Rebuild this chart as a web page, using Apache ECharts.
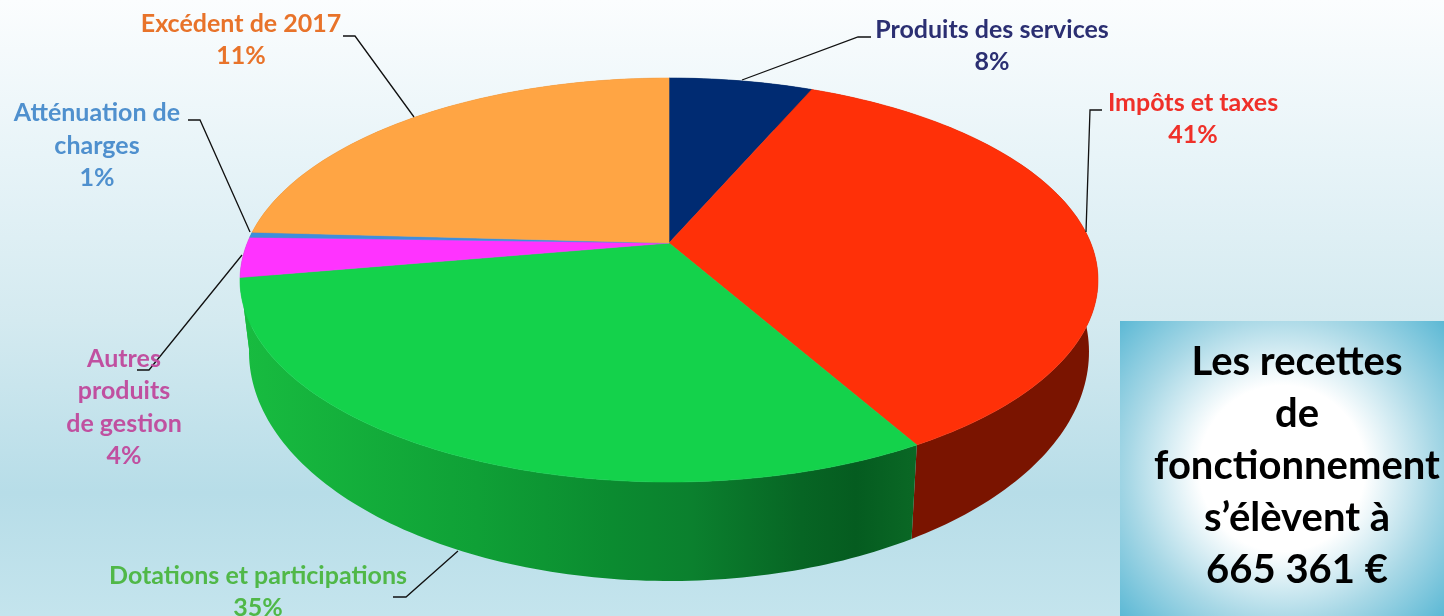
<!DOCTYPE html>
<html lang="fr">
<head>
<meta charset="utf-8">
<title>Recettes de fonctionnement</title>
<script src="https://cdn.jsdelivr.net/npm/echarts@6/dist/echarts.min.js"></script>
<style>
  html, body { margin: 0; padding: 0; overflow: hidden; }
  #chart { width: 1444px; height: 616px; }
</style>
</head>
<body>
<div id="chart"></div>
<script>
// clockwise from 12 o'clock
var names = ['Produits des services', 'Impôts et taxes', 'Dotations et participations', 'Autres produits de gestion', 'Atténuation de charges', 'Excédent de 2017'];
// printed percentages
var percents = [8, 41, 35, 4, 1, 11];
// the slices as they are drawn in the picture (they do not follow the printed numbers)
var sliceShares = [5.4, 34.8, 35.0, 3.2, 0.4, 21.2];
var topColors = ['#002B72', '#FF3008', '#14D24B', '#FF33FF', '#3E8EDB', '#FFA544'];
// the back of the pie is hidden, the two walls next to the green one show as green at the left edge
var wallColors = ['#001A48', '#7A1400', '#0B8B30', '#18BC40', '#18BC40', '#B87020'];
var labelColors = ['#2B2F72', '#EF3029', '#50B848', '#C050A0', '#4F90CE', '#E8732A'];
var labelLines = [['Produits des services'], ['Impôts et taxes'], ['Dotations et participations'], ['Autres', 'produits', 'de gestion'], ['Atténuation de', 'charges'], ['Excédent de 2017']];
var boxLines = ['Les recettes', 'de', 'fonctionnement', 's’élèvent à', '665 361 €'];

// label layout: centre x, y of each line
var labelX = [992, 1193, 258, 124, 97, 241];
var labelY = [[30, 62], [103, 135], [576, 608], [359, 391, 424, 456], [113, 146, 178], [24, 56]];
var leaders = [
  [[742, 80], [858, 37], [871, 37]],
  [[1086, 232], [1090, 110], [1102, 110]],
  [[458, 551], [406, 597], [393, 597]],
  [[242, 255], [149, 370], [137, 370]],
  [[250, 232], [200, 120], [188, 120]],
  [[414, 117], [355, 36], [343, 36]]
];
var boxX = 1297;
var boxY = [362, 414, 466, 518, 570];

// pie geometry in axis units (the top face is the unit circle of the hidden axes)
var apexY = 0.183;
var rimCentreY = -0.356;
var rimRadiusX = 0.979;
var rimRadiusY = 1.134;

var starts = [];
var total = 0;
sliceShares.forEach(function (v) { starts.push(total); total += v; });

function arc(from, to, cx, cy, rx, ry) {
  var pts = [];
  var steps = Math.max(2, Math.ceil(Math.abs(to - from) * 3));
  for (var i = 0; i <= steps; i++) {
    var a = (from + (to - from) * i / steps) / 100 * 2 * Math.PI;
    pts.push([cx + rx * Math.sin(a), cy + ry * Math.cos(a)]);
  }
  return pts;
}

function greenWall() {
  return new echarts.graphic.LinearGradient(0, 0, 1, 0, [
    { offset: 0, color: '#18BC40' },
    { offset: 0.35, color: '#0FA036' },
    { offset: 0.55, color: '#0B8B30' },
    { offset: 0.67, color: '#0B802E' },
    { offset: 0.83, color: '#076524' },
    { offset: 0.91, color: '#055C20' },
    { offset: 1, color: '#0A6825' }
  ]);
}

function renderWall(params, api) {
  var i = api.value(0);
  var from = starts[i], to = from + api.value(1);
  var pts = arc(from, to, 0, 0, 1, 1).concat(arc(to, from, 0, rimCentreY, rimRadiusX, rimRadiusY));
  var fill = i === 2 ? greenWall() : wallColors[i];
  return {
    type: 'polygon',
    shape: { points: pts.map(function (p) { return api.coord(p); }) },
    style: { fill: fill }
  };
}

function renderTop(params, api) {
  var i = api.value(0);
  var from = starts[i], to = from + api.value(1);
  var pts = [[0, apexY]].concat(arc(from, to, 0, 0, 1, 1));
  return {
    type: 'polygon',
    shape: { points: pts.map(function (p) { return api.coord(p); }) },
    style: { fill: topColors[i], stroke: topColors[i], lineWidth: 0.6 }
  };
}

var graphics = [{
  type: 'rect',
  z: 1,
  silent: true,
  shape: { x: 1120, y: 321, width: 324, height: 295 },
  style: {
    fill: new echarts.graphic.RadialGradient(0.5, 0.5, 0.74, [
      { offset: 0, color: '#FFFFFF' },
      { offset: 0.38, color: '#FFFFFF' },
      { offset: 0.7, color: '#A8D8E6' },
      { offset: 1, color: '#5DB9D5' }
    ])
  }
}];

boxLines.forEach(function (line, i) {
  graphics.push({
    type: 'text', z: 10, silent: true,
    style: { text: line, x: boxX, y: boxY[i], align: 'center', verticalAlign: 'middle', font: '700 40px Lato', fill: '#000' }
  });
});

leaders.forEach(function (pts) {
  graphics.push({
    type: 'polyline', z: 9, silent: true,
    shape: { points: pts },
    style: { stroke: '#111', lineWidth: 1.3, fill: null }
  });
});

names.forEach(function (name, i) {
  labelLines[i].concat(percents[i] + '%').forEach(function (line, j) {
    graphics.push({
      type: 'text', z: 10, silent: true,
      style: { text: line, x: labelX[i], y: labelY[i][j], align: 'center', verticalAlign: 'middle', font: '700 25px Lato', fill: labelColors[i] }
    });
  });
});

var chart = echarts.init(document.getElementById('chart'));
var sliceData = sliceShares.map(function (v, i) { return [i, v]; });

chart.setOption({
  animation: false,
  backgroundColor: new echarts.graphic.LinearGradient(0, 0, 0, 1, [
    { offset: 0, color: '#FBFDFE' },
    { offset: 0.25, color: '#E8F4F8' },
    { offset: 0.52, color: '#D4EAF0' },
    { offset: 0.8, color: '#B7DDE8' },
    { offset: 1, color: '#C4E4ED' }
  ]),
  grid: { left: 240, top: 78, width: 858, height: 404 },
  xAxis: { type: 'value', min: -1, max: 1, show: false },
  yAxis: { type: 'value', min: -1, max: 1, show: false },
  series: [
    { type: 'custom', name: 'parois', renderItem: renderWall, data: sliceData, silent: true, z: 2, clip: false },
    { type: 'custom', name: 'faces', renderItem: renderTop, data: sliceData, silent: true, z: 3, clip: false }
  ],
  graphic: { elements: graphics }
});
</script>
</body>
</html>
